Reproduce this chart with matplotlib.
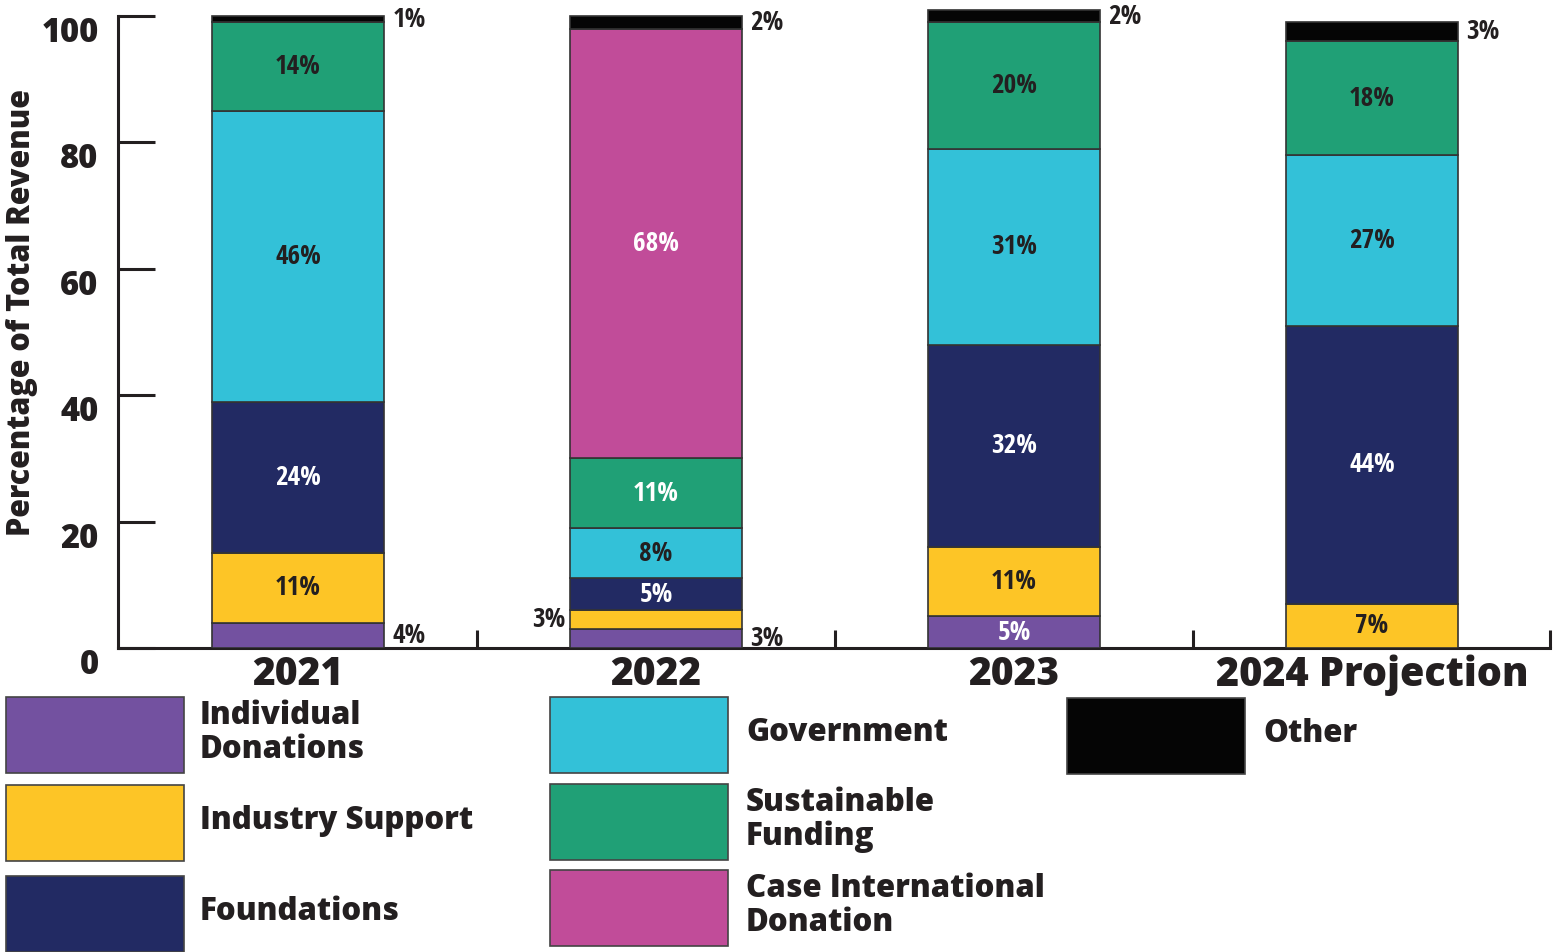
import matplotlib
matplotlib.use("Agg")
import matplotlib.pyplot as plt
from matplotlib.patches import Rectangle
import numpy as np

# ---------------- data ----------------
years = ["2021", "2022", "2023", "2024 Projection"]
individual = [4, 3, 5, 0]
industry = [11, 3, 11, 7]
foundations = [24, 5, 32, 44]
government = [46, 8, 31, 27]
sustainable = [14, 11, 20, 18]
case_intl = [0, 68, 0, 0]
other = [1, 2, 2, 3]

series_names = ["Individual\nDonations", "Industry Support", "Foundations",
                "Government", "Sustainable\nFunding", "Case International\nDonation", "Other"]
series_values = [individual, industry, foundations, government, sustainable, case_intl, other]
colors = ["#7351A0", "#FDC526", "#222A63", "#33C1D8", "#20A076", "#C14C99", "#050505"]
label_white_series = {0, 2, 5}          # series with white in-bar labels
label_white_cells = {(1, 4)}            # (year idx, series idx) extra white labels
outside_left_cells = {(1, 1)}           # small labels placed left of the bar
inside_small_cells = {(2, 0)}           # small values still labelled inside

DARK = "#231F20"
MAIN = ["Open Sans", "DejaVu Sans"]
COND = ["Open Sans Condensed", "Roboto Condensed", "DejaVu Sans"]
W, H = 1554, 952

fig = plt.figure(figsize=(W / 100, H / 100), dpi=100)
ax = fig.add_axes([118 / W, (H - 648) / H, (1550 - 118) / W, (648 - 3.4) / H])

x = np.arange(len(years))
width = 0.48
cond = dict(family=COND, stretch="condensed", weight="bold", fontsize=19.5)

bottom = np.zeros(len(years))
for si, (vals, col) in enumerate(zip(series_values, colors)):
    vals = np.array(vals, dtype=float)
    ax.bar(x, vals, width, bottom=bottom, color=col, edgecolor="#333333",
           linewidth=1.2, zorder=3)
    for yi in range(len(years)):
        v = vals[yi]
        if v <= 0:
            continue
        mid = bottom[yi] + v / 2
        txt = f"{int(v)}%"
        if v <= 4 and (yi, si) not in inside_small_cells:
            if (yi, si) in outside_left_cells:
                ax.text(x[yi] - width / 2 - 0.012, mid, txt, ha="right", va="center",
                        color=DARK, zorder=4, **cond)
            else:
                ax.text(x[yi] + width / 2 + 0.024, mid, txt, ha="left", va="center",
                        color=DARK, zorder=4, **cond)
        else:
            white = si in label_white_series or (yi, si) in label_white_cells
            ax.text(x[yi], mid, txt, ha="center", va="center",
                    color="white" if white else DARK, zorder=4, **cond)
    bottom += vals

ax.set_xlim(-0.503, 3.497)
ax.set_ylim(0, 102)

for s in ["top", "right"]:
    ax.spines[s].set_visible(False)
ax.spines["left"].set_bounds(0, 100)
for s in ["left", "bottom"]:
    ax.spines[s].set_linewidth(2.2)
    ax.spines[s].set_color(DARK)

ax.set_yticks([0, 20, 40, 60, 80, 100])
ax.set_yticklabels(["0", "20", "40", "60", "80", "100"], fontsize=23.5,
                   fontweight=800, family=MAIN, color=DARK)
ax.tick_params(axis="y", direction="in", length=26.6, width=2.2, color=DARK, pad=14)
for lbl in ax.get_yticklabels():
    lbl.set_va("top")

ax.set_xticks(x)
ax.set_xticklabels(years, fontsize=28, fontweight=800, family=MAIN, color=DARK)
ax.tick_params(axis="x", which="major", length=0, pad=5)
ax.set_xticks(np.append(x[:-1] + 0.5, 3.497), minor=True)
ax.tick_params(axis="x", which="minor", direction="in", length=13, width=2.2, color=DARK)
xl = ax.get_xticklabels()
xl[-1].set_fontsize(28.5)
xl[-1].set_x(x[-1] + 0.022)

fig.text(22 / W, 1 - 312 / H, "Percentage of Total Revenue", rotation=90,
         ha="center", va="center", fontsize=22, fontweight=800,
         family=MAIN, color=DARK)

# ---------------- legend (manual layout) ----------------
leg_layout = [
    (6, 697, 200), (6, 785, 200), (6, 876, 200),
    (550, 697, 746), (550, 784, 746), (550, 870, 746),
    (1067, 698, 1263),
]
pw, ph = 178, 76
for (px, py, tx), name, col in zip(leg_layout, series_names, colors):
    fig.add_artist(Rectangle((px / W, 1 - (py + ph) / H), pw / W, ph / H,
                             transform=fig.transFigure, facecolor=col,
                             edgecolor="#444444", linewidth=1.2))
    fig.text(tx / W, 1 - (py + ph / 2 - 2) / H, name, ha="left", va="center",
             fontsize=22.5, fontweight=800, family=MAIN, color=DARK,
             linespacing=1.05)

fig.savefig("out.png", dpi=100)
